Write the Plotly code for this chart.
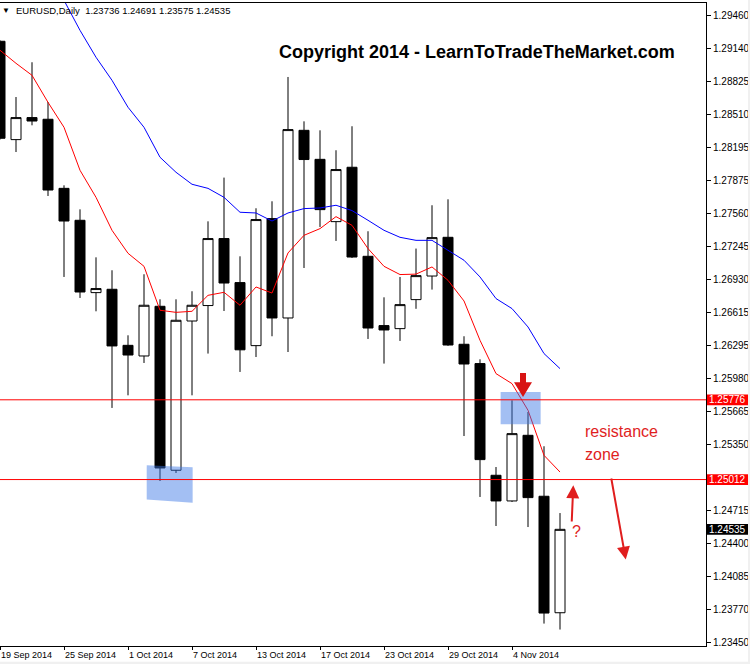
import plotly.graph_objects as go

# ---------------- data ----------------
dates = ["2014-09-19", "2014-09-22", "2014-09-23", "2014-09-24", "2014-09-25", "2014-09-26",
         "2014-09-29", "2014-09-30", "2014-10-01", "2014-10-02", "2014-10-03", "2014-10-06",
         "2014-10-07", "2014-10-08", "2014-10-09", "2014-10-10", "2014-10-13", "2014-10-14",
         "2014-10-15", "2014-10-16", "2014-10-17", "2014-10-20", "2014-10-21", "2014-10-22",
         "2014-10-23", "2014-10-24", "2014-10-27", "2014-10-28", "2014-10-29", "2014-10-30",
         "2014-10-31", "2014-11-03", "2014-11-04", "2014-11-05", "2014-11-06", "2014-11-07"]

opens = [1.29211, 1.28269, 1.28480, 1.28464, 1.27802, 1.27496, 1.26803, 1.26835, 1.26298,
         1.26196, 1.26672, 1.25101, 1.26531, 1.26679, 1.27321, 1.26899, 1.26295, 1.27512,
         1.26560, 1.28358, 1.28080, 1.27483, 1.28004, 1.27151, 1.26487, 1.26458, 1.26736,
         1.26962, 1.27333, 1.26308, 1.26123, 1.25053, 1.24807, 1.25436, 1.24852, 1.23736]
highs = [1.29220, 1.28677, 1.29010, 1.28629, 1.27831, 1.27601, 1.27141, 1.27017, 1.26394,
         1.26979, 1.26739, 1.26739, 1.26816, 1.27486, 1.27905, 1.27151, 1.27611, 1.27678,
         1.28869, 1.28444, 1.28358, 1.28167, 1.28397, 1.27391, 1.26758, 1.26953, 1.27225,
         1.27640, 1.27697, 1.26385, 1.26164, 1.25132, 1.25771, 1.25659, 1.25331, 1.24691]
lows = [1.28270, 1.28150, 1.28406, 1.27729, 1.26953, 1.26752, 1.26624, 1.25698, 1.25819,
        1.26129, 1.24998, 1.25075, 1.25819, 1.26219, 1.26627, 1.26043, 1.26186, 1.26385,
        1.26234, 1.27039, 1.27432, 1.27298, 1.27135, 1.26359, 1.26123, 1.26340, 1.26648,
        1.26832, 1.26293, 1.25429, 1.24845, 1.24567, 1.24797, 1.24557, 1.23632, 1.23575]
closes = [1.28282, 1.28480, 1.28447, 1.27786, 1.27489, 1.26809, 1.26842, 1.26292, 1.26205,
          1.26682, 1.25123, 1.26538, 1.26682, 1.27321, 1.26895, 1.26255, 1.27503, 1.26560,
          1.28365, 1.28078, 1.27598, 1.27982, 1.27144, 1.26464, 1.26445, 1.26688, 1.26966,
          1.27330, 1.26301, 1.26119, 1.25203, 1.24807, 1.25452, 1.24839, 1.23733, 1.24535]

ma_fast = [1.29125, 1.29000, 1.28885, 1.28626, 1.28387, 1.27975, 1.27716, 1.27400, 1.27180,
           1.27055, 1.26634, 1.26614, 1.26624, 1.26777, 1.26806, 1.26682, 1.26857, 1.26799,
           1.27183, 1.27352, 1.27416, 1.27531, 1.27448, 1.27225, 1.27055, 1.26976, 1.26980,
           1.27049, 1.26921, 1.26723, 1.26346, 1.26027, 1.25931, 1.25676, 1.25244, 1.25084]
ma_slow = [None, None, None, 1.29862, 1.29604, 1.29316, 1.29058, 1.28837, 1.28579,
           1.28387, 1.28100, 1.27956, 1.27841, 1.27802, 1.27716, 1.27573, 1.27566, 1.27489,
           1.27566, 1.27608, 1.27614, 1.27640, 1.27589, 1.27496, 1.27400, 1.27333, 1.27304,
           1.27304, 1.27209, 1.27113, 1.26953, 1.26746, 1.26650, 1.26474, 1.26219, 1.26075]

tick_dates = ["2014-09-19", "2014-09-25", "2014-10-01", "2014-10-07", "2014-10-13",
              "2014-10-17", "2014-10-23", "2014-10-29", "2014-11-04"]
tick_labels = ["19 Sep 2014", "25 Sep 2014", "1 Oct 2014", "7 Oct 2014", "13 Oct 2014",
               "17 Oct 2014", "23 Oct 2014", "29 Oct 2014", "4 Nov 2014"]

price_ticks = [1.29460, 1.29140, 1.28825, 1.28510, 1.28195, 1.27875, 1.27560, 1.27245,
               1.26930, 1.26615, 1.26295, 1.25980, 1.25665, 1.25350, 1.24715, 1.24400,
               1.24085, 1.23770, 1.23450]

resistance_levels = [1.25776, 1.25012]
last_price = 1.24535
header_text = "EURUSD,Daily  1.23736 1.24691 1.23575 1.24535"
copyright_text = "Copyright 2014 - LearnToTradeTheMarket.com"

# ---------------- figure ----------------
idx = list(range(len(dates)))
tick_idx = [dates.index(d) for d in tick_dates]
FONT = "Liberation Sans, Arial, sans-serif"

fig = go.Figure()
fig.add_trace(go.Candlestick(
    x=idx, open=opens, high=highs, low=lows, close=closes,
    increasing=dict(fillcolor="white", line=dict(color="black", width=1)),
    decreasing=dict(fillcolor="black", line=dict(color="black", width=1)),
    whiskerwidth=0, hoverinfo="skip", showlegend=False))
fig.add_trace(go.Scatter(x=idx, y=ma_slow, mode="lines",
                         line=dict(color="#0000ff", width=1), hoverinfo="skip", showlegend=False))
fig.add_trace(go.Scatter(x=idx, y=ma_fast, mode="lines",
                         line=dict(color="#ff0000", width=1), hoverinfo="skip", showlegend=False))

shapes = []
# blue highlight boxes
box_fill = "rgba(60,120,230,0.47)"
shapes.append(dict(type="path", xref="x", yref="y", layer="above", line=dict(width=0),
                   fillcolor=box_fill,
                   path="M 9.17,1.25149 L 12.04,1.25130 L 12.04,1.24789 L 9.17,1.24820 Z"))
shapes.append(dict(type="rect", xref="x", yref="y", layer="above", line=dict(width=0),
                   fillcolor=box_fill, x0=31.29, x1=33.79, y0=1.25541, y1=1.25851))
# horizontal resistance lines
for lvl in resistance_levels:
    shapes.append(dict(type="line", xref="paper", yref="y", x0=0, x1=1, y0=lvl, y1=lvl,
                       layer="above", line=dict(color="#ff0000", width=1)))
# big red down arrow
shapes.append(dict(type="path", xref="x", yref="y", layer="above", line=dict(width=0),
                   fillcolor="#d81414",
                   path=("M 32.5,1.26033 L 32.875,1.26033 L 32.875,1.25944 L 33.25,1.25944 "
                         "L 32.6875,1.25803 L 32.125,1.25944 L 32.5,1.25944 Z")))
# price label boxes on the axis
half_h = 0.00051
for lvl, col in [(resistance_levels[0], "#ff0000"), (resistance_levels[1], "#ff0000"),
                 (last_price, "#000000")]:
    shapes.append(dict(type="rect", xref="paper", yref="y", x0=1.0014, x1=1.0595,
                       y0=lvl - half_h, y1=lvl + half_h, layer="above",
                       line=dict(width=0), fillcolor=col))
# window-edge grey strips
shapes.append(dict(type="rect", xref="paper", yref="paper", x0=1.0595, x1=1.07, y0=-0.03,
                   y1=1.01, line=dict(width=0), fillcolor="#f0f0f0", layer="above"))
shapes.append(dict(type="rect", xref="paper", yref="paper", x0=-0.01, x1=1.07, y0=-0.03,
                   y1=-0.0244, line=dict(width=0), fillcolor="#f0f0f0", layer="above"))

annotations = []
for lvl in resistance_levels + [last_price]:
    annotations.append(dict(xref="paper", yref="y", x=1.0305, y=lvl, text=f"{lvl:.5f}",
                            showarrow=False, xanchor="center", yanchor="middle",
                            font=dict(family=FONT, size=10, color="white")))
annotations += [
    dict(xref="paper", yref="paper", x=0.0092, y=0.9886, text="▼", showarrow=False,
         xanchor="center", yanchor="middle", font=dict(family=FONT, size=8, color="black")),
    dict(xref="paper", yref="paper", x=0.0198, y=0.9886, text=header_text, showarrow=False,
         xanchor="left", yanchor="middle", font=dict(family=FONT, size=9.5, color="black")),
    dict(xref="paper", yref="paper", x=0.6756, y=0.9233, text="<b>" + copyright_text + "</b>",
         showarrow=False, xanchor="center", yanchor="middle",
         font=dict(family=FONT, size=18, color="black")),
    dict(xref="x", yref="y", x=36.42, y=1.25468, text="resistance", showarrow=False,
         xanchor="left", yanchor="middle", font=dict(family=FONT, size=16, color="#e01e1e")),
    dict(xref="x", yref="y", x=36.42, y=1.25254, text="zone", showarrow=False,
         xanchor="left", yanchor="middle", font=dict(family=FONT, size=16, color="#e01e1e")),
    dict(xref="x", yref="y", x=36.04, y=1.24510, text="?", showarrow=False,
         xanchor="center", yanchor="middle", font=dict(family=FONT, size=16, color="#e01e1e")),
    dict(xref="x", yref="y", x=35.83, y=1.24957, ax=35.73, ay=1.24596, axref="x", ayref="y",
         text="", showarrow=True, arrowhead=2, arrowsize=1.3, arrowwidth=2,
         arrowcolor="#e01e1e"),
    dict(xref="x", yref="y", x=39.11, y=1.24245, ax=38.19, ay=1.25036, axref="x", ayref="y",
         text="", showarrow=True, arrowhead=2, arrowsize=1.3, arrowwidth=2,
         arrowcolor="#e01e1e"),
]

fig.update_layout(
    width=750, height=664,
    margin=dict(l=0, r=44, t=3, b=18),
    paper_bgcolor="white", plot_bgcolor="white",
    showlegend=False,
    boxgap=0.375, boxgroupgap=0,
    shapes=shapes, annotations=annotations,
    font=dict(family=FONT, size=10, color="black"),
    xaxis=dict(range=[0, 44.125], rangeslider=dict(visible=False), showgrid=False,
               zeroline=False, showline=True, mirror=True, linecolor="black", linewidth=1,
               tickmode="array", tickvals=tick_idx, ticktext=tick_labels,
               ticks="outside", ticklen=3, tickcolor="black",
               ticklabelposition="outside right",
               tickfont=dict(family=FONT, size=9, color="black")),
    yaxis=dict(range=[1.234173, 1.295778], side="right", showgrid=False, zeroline=False,
               showline=True, linecolor="black", linewidth=1,
               tickmode="array", tickvals=price_ticks,
               ticktext=[f"{v:.5f}" for v in price_ticks],
               ticks="outside", ticklen=4, tickcolor="black",
               tickfont=dict(family=FONT, size=10, color="black")),
)

fig.write_html("out.html", config={"displayModeBar": False},
               post_script="document.body.style.margin='0px';document.body.style.overflow='hidden';")
